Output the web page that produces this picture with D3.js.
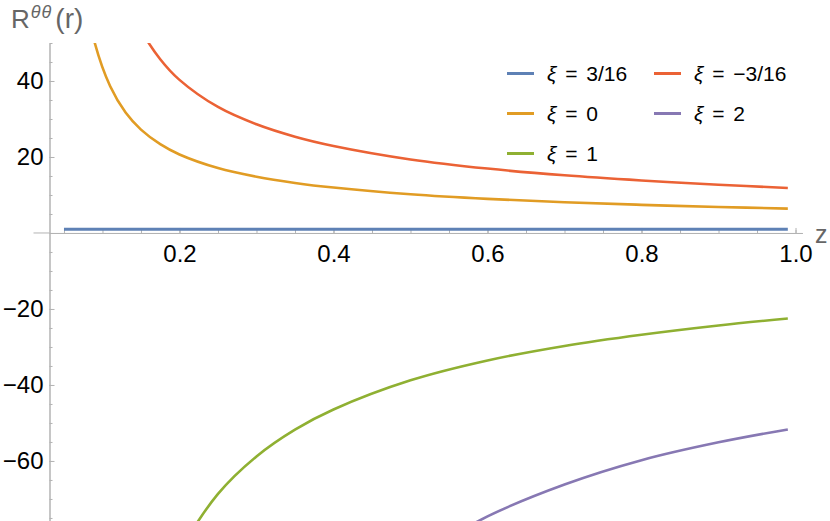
<!DOCTYPE html>
<html>
<head>
<meta charset="utf-8">
<script src="https://cdn.jsdelivr.net/npm/d3@7"></script>
<style>
  body { margin: 0; background: #fff; }
  text { font-family: "Liberation Sans", Arial, sans-serif; }
</style>
</head>
<body>
<div id="wrapper"></div>
<script>
// sample points along z
const zSamples = [0.05, 0.07, 0.09, 0.11, 0.13, 0.15, 0.175, 0.2, 0.25, 0.3, 0.35, 0.4, 0.5, 0.6, 0.7, 0.8, 0.9, 0.99]

// R^θθ values for each ξ, null where the curve is far off the plot
const xi316 = [1, 1, 1, 1, 1, 1, 1, 1, 1, 1, 1, 1, 1, 1, 1, 1, 1, 1]
const xi0 = [null, 70.4, 50.0, 38.6, 31.7, 27.2, 23.37, 20.65, 17.08, 14.8, 13.17, 11.95, 10.18, 8.97, 8.09, 7.41, 6.85, 6.42]
const xiM316 = [null, null, null, null, 62.4, 53.4, 45.74, 40.3, 33.16, 28.6, 25.34, 22.9, 19.36, 16.95, 15.18, 13.83, 12.7, 11.85]
const xi1 = [null, null, null, null, null, null, -95.9, -84.15, -68.68, -58.8, -51.74, -46.45, -38.78, -33.55, -29.73, -26.79, -24.35, -22.5]
const xi2 = [null, null, null, null, null, null, null, null, null, null, null, null, -86.2, -74.6, -66.2, -59.8, -55.1, -51.7]

const seriesNames = ["ξ = 3/16", "ξ = 0", "ξ = 1", "ξ = −3/16", "ξ = 2"]
const seriesValues = [xi316, xi0, xi1, xiM316, xi2]
const seriesColors = ["#5E81B5", "#E19C24", "#8FB032", "#EB6235", "#8778B3"]

const xMajorTicks = [0.2, 0.4, 0.6, 0.8, 1.0]
const yMajorTicks = [-60, -40, -20, 20, 40]

const dimensions = {
    width: 830,
    height: 521,
    left: 49.5,
    right: 802.3,
    top: 43,
    bottom: 521,
}

const svg = d3.select("#wrapper")
    .append("svg")
    .attr("width", dimensions.width)
    .attr("height", dimensions.height)

const xScale = d3.scaleLinear()
    .domain([0.0312, 1.0088])
    .range([dimensions.left, dimensions.right])

const yScale = d3.scaleLinear()
    .domain([-75.8, 50])
    .range([dimensions.bottom, dimensions.top])

const axisColor = "#b3b3b3"
const y0 = yScale(0)

// x axis (ticks pointing up, into the plot)
const xMinor = d3.range(0.05, 1.001, 0.05).map(d => +d.toFixed(2))
svg.append("g")
    .attr("transform", `translate(0,${y0})`)
    .call(d3.axisBottom(xScale).tickValues(xMinor).tickSize(-3).tickSizeOuter(0).tickFormat(""))
svg.append("g")
    .attr("class", "x-axis")
    .attr("transform", `translate(0,${y0})`)
    .call(d3.axisBottom(xScale)
        .tickValues(xMajorTicks)
        .tickSize(-5)
        .tickSizeOuter(0)
        .tickPadding(12)
        .tickFormat(d3.format(".1f")))

// y axis (ticks pointing right)
const yMinor = d3.range(-75, 51, 5)
svg.append("g")
    .attr("transform", `translate(${dimensions.left},0)`)
    .call(d3.axisLeft(yScale).tickValues(yMinor).tickSize(-3).tickSizeOuter(0).tickFormat(""))
svg.append("g")
    .attr("class", "y-axis")
    .attr("transform", `translate(${dimensions.left},0)`)
    .call(d3.axisLeft(yScale)
        .tickValues(yMajorTicks)
        .tickSize(-5)
        .tickSizeOuter(0)
        .tickPadding(6))

svg.selectAll(".domain, .tick line").attr("stroke", axisColor).attr("stroke-width", 1)
svg.selectAll(".tick text")
    .attr("fill", "#000")
    .style("font-size", "24px")
    .style("font-family", "'Liberation Sans', Arial, sans-serif")

// little stub of the x axis left of the y axis
svg.append("line")
    .attr("x1", dimensions.left - 16).attr("x2", dimensions.left)
    .attr("y1", y0).attr("y2", y0)
    .attr("stroke", axisColor)

// axis labels
svg.append("text")
    .attr("x", 815)
    .attr("y", 243)
    .attr("fill", "#666")
    .style("font-size", "25px")
    .text("z")

const yTitle = svg.append("text")
    .attr("x", 11)
    .attr("y", 28)
    .attr("fill", "#666")
    .style("font-size", "26px")
yTitle.append("tspan").text("R")
yTitle.append("tspan")
    .attr("dy", -10)
    .attr("dx", 1)
    .style("font-size", "18px")
    .style("font-style", "italic")
    .style("letter-spacing", "1px")
    .text("θθ")
yTitle.append("tspan").attr("dy", 10).attr("dx", 3).style("font-size", "28px").text("(r)")

// curves
svg.append("clipPath")
    .attr("id", "plot-clip")
    .append("rect")
    .attr("x", dimensions.left)
    .attr("y", dimensions.top)
    .attr("width", dimensions.width - dimensions.left)
    .attr("height", dimensions.bottom - dimensions.top)

const line = d3.line()
    .defined(d => d[1] !== null)
    .x(d => xScale(d[0]))
    .y(d => yScale(d[1]))
    .curve(d3.curveCatmullRom.alpha(0.5))

const curves = svg.append("g").attr("clip-path", "url(#plot-clip)")
seriesValues.forEach((vals, i) => {
    curves.append("path")
        .datum(zSamples.map((z, j) => [z, vals[j]]))
        .attr("d", line)
        .attr("fill", "none")
        .attr("stroke", seriesColors[i])
        .attr("stroke-width", i === 0 ? 3 : 2.6)
        .attr("stroke-linejoin", "round")
})

// legend: two columns, three rows
const legend = svg.append("g").attr("class", "legend")
seriesNames.forEach((name, i) => {
    const col = i < 3 ? 0 : 1
    const row = i < 3 ? i : i - 3
    const g = legend.append("g")
        .attr("transform", `translate(${507 + col * 147},${73.5 + row * 40})`)
    g.append("line")
        .attr("x1", 0).attr("x2", 27)
        .attr("stroke", seriesColors[i])
        .attr("stroke-width", 3)
    const t = g.append("text")
        .attr("x", 40)
        .attr("dy", "0.35em")
        .attr("fill", "#000")
        .style("font-size", "21px")
        .style("word-spacing", "3px")
    t.append("tspan").style("font-style", "italic").text(name.slice(0, 1))
    t.append("tspan").text(name.slice(1))
})
</script>
</body>
</html>
